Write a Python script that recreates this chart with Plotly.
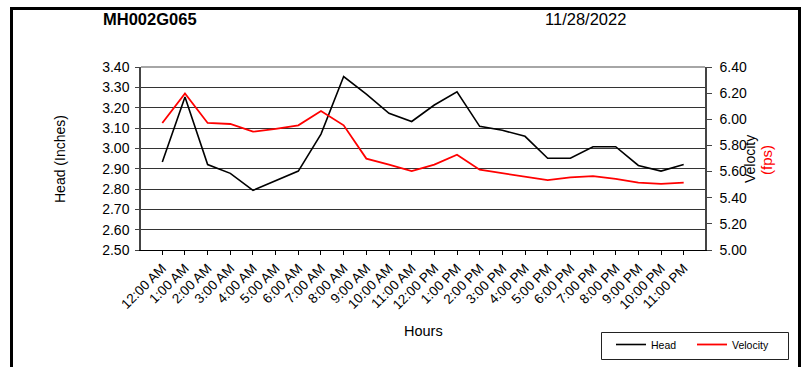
import plotly.graph_objects as go

# Hourly readings for one day
hours = ["12:00 AM", "1:00 AM", "2:00 AM", "3:00 AM", "4:00 AM", "5:00 AM",
         "6:00 AM", "7:00 AM", "8:00 AM", "9:00 AM", "10:00 AM", "11:00 AM",
         "12:00 PM", "1:00 PM", "2:00 PM", "3:00 PM", "4:00 PM", "5:00 PM",
         "6:00 PM", "7:00 PM", "8:00 PM", "9:00 PM", "10:00 PM", "11:00 PM"]

head_in = [2.933, 3.252, 2.920, 2.877, 2.793, 2.840, 2.888, 3.070,
           3.353, 3.267, 3.172, 3.132, 3.213, 3.278, 3.108, 3.089,
           3.059, 2.951, 2.951, 3.008, 3.008, 2.916, 2.888, 2.921]

velocity_fps = [5.972, 6.198, 5.972, 5.964, 5.905, 5.926, 5.954, 6.063,
                5.954, 5.699, 5.653, 5.604, 5.653, 5.729, 5.614, 5.588,
                5.557, 5.534, 5.555, 5.565, 5.544, 5.516, 5.506, 5.516]

head_ticks = [2.5 + 0.1 * i for i in range(10)]
vel_ticks = [5.0 + 0.2 * i for i in range(8)]

FONT = "Liberation Sans, Arial, sans-serif"

fig = go.Figure()
fig.add_trace(go.Scatter(x=hours, y=head_in, name="Head", mode="lines",
                         line=dict(color="black", width=1.6)))
fig.add_trace(go.Scatter(x=hours, y=velocity_fps, name="Velocity", mode="lines",
                         line=dict(color="#ff0000", width=1.8), yaxis="y2"))

W, H = 803, 367
L, R, T, B = 141, 98, 67, 117
pw, ph = W - L - R, H - T - B


def px(x):
    return (x - L) / pw


def py(y):
    return (H - B - y) / ph


def label(text, x, y, size, angle=0, color="black"):
    return dict(text=text, x=px(x), y=py(y), xref="paper", yref="paper",
                xanchor="center", yanchor="middle", showarrow=False,
                textangle=angle, font=dict(size=size, family=FONT, color=color))


fig.update_layout(
    width=W, height=H,
    margin=dict(l=L, r=R, t=T, b=B, autoexpand=False),
    paper_bgcolor="white", plot_bgcolor="white",
    font=dict(family=FONT, color="black", size=13),
    showlegend=True,
    legend=dict(orientation="h", x=px(611), y=py(330), xanchor="left", yanchor="top",
                borderwidth=0, bgcolor="rgba(0,0,0,0)",
                font=dict(size=10.5, family=FONT), itemwidth=30,
                entrywidth=36, entrywidthmode="pixels"),
    xaxis=dict(type="category", range=[-0.94, 23.94], tickangle=-45,
               tickfont=dict(size=13.5), ticks="outside", ticklen=4, tickcolor="black",
               showline=True, linecolor="black", linewidth=1.2, showgrid=False,
               zeroline=False, automargin=False),
    yaxis=dict(range=[2.5, 3.4], tickvals=head_ticks, tickformat=".2f",
               tickfont=dict(size=14), ticks="outside", ticklen=4, tickcolor="#444",
               ticklabelstandoff=3,
               showline=True, linecolor="#444", linewidth=1.5, automargin=False,
               showgrid=True, gridcolor="#333", gridwidth=1, zeroline=False),
    yaxis2=dict(range=[5.0, 6.4], tickvals=vel_ticks, tickformat=".2f",
                overlaying="y", side="right", automargin=False,
                tickfont=dict(size=14), ticks="outside", ticklen=5, tickcolor="#444",
                ticklabelstandoff=5,
                showline=True, linecolor="#444", linewidth=1.5,
                showgrid=False, zeroline=False),
    shapes=[
        # outer chart frame
        dict(type="rect", xref="paper", yref="paper",
             x0=px(11.5), x1=px(799.5), y0=py(385), y1=py(8.5),
             line=dict(color="black", width=3), fillcolor="rgba(0,0,0,0)", layer="below"),
        # top edge of plot area
        dict(type="line", xref="paper", yref="paper", x0=0, x1=1, y0=1, y1=1,
             line=dict(color="#888", width=1.5)),
        # legend box
        dict(type="rect", xref="paper", yref="paper",
             x0=px(601.5), x1=px(788.5), y0=py(359.5), y1=py(332.5),
             line=dict(color="#222", width=1), fillcolor="white", layer="below"),
    ],
    annotations=[
        label("<b>MH002G065</b>", 149.5, 19, 16.5),
        label("11/28/2022", 585.5, 19, 16.5),
        label("Head (Inches)", 60, 159, 14, -90),
        label("Velocity", 750, 159, 14, -90),
        label("(fps)", 766, 160, 15, -90, "#ff0000"),
        label("Hours", 423.5, 331, 14.5),
    ],
)

fig.write_html("out.html")
